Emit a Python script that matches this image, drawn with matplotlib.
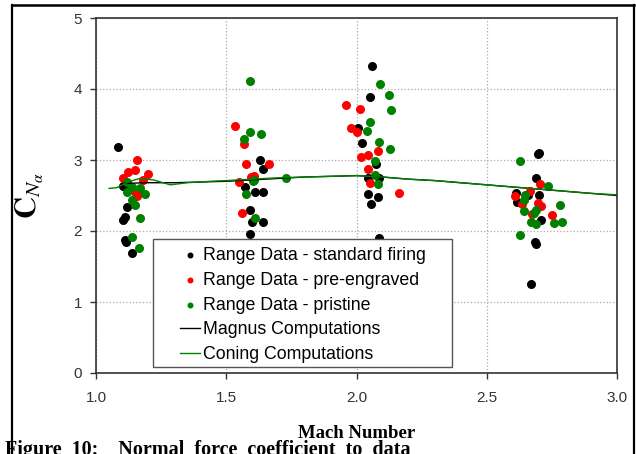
import matplotlib.pyplot as plt
from matplotlib.lines import Line2D
from matplotlib.patches import Rectangle

plt.rcParams['font.family'] = ['Liberation Sans', 'DejaVu Sans']
plt.rcParams['mathtext.fontset'] = 'stix'

# Range data - standard firing
std_mach = [1.086, 1.105, 1.118, 1.11, 1.105, 1.11, 1.115, 1.14,
            1.63, 1.64, 1.573, 1.61, 1.64, 1.592, 1.60, 1.64, 1.59,
            2.058, 2.05, 2.007, 2.02, 2.076, 2.045, 2.088, 2.044, 2.083, 2.057, 2.088,
            2.695, 2.70, 2.69, 2.612, 2.70, 2.66, 2.615, 2.71, 2.686, 2.69, 2.67]
std_cna = [3.19, 2.63, 2.34, 2.20, 2.15, 1.87, 1.85, 1.69,
           3.00, 2.87, 2.62, 2.55, 2.55, 2.29, 2.13, 2.12, 1.96,
           4.33, 3.89, 3.45, 3.24, 2.94, 2.75, 2.75, 2.52, 2.48, 2.38, 1.90,
           3.08, 3.10, 2.75, 2.54, 2.51, 2.51, 2.41, 2.16, 1.84, 1.81, 1.25]

# Range data - pre-engraved
pre_mach = [1.157, 1.124, 1.15, 1.20, 1.105, 1.18, 1.15, 1.157, 1.165,
            1.532, 1.57, 1.577, 1.663, 1.595, 1.605, 1.55, 1.56,
            1.96, 2.013, 1.98, 2.0, 2.082, 2.045, 2.018, 2.045, 2.05, 2.163,
            2.705, 2.665, 2.608, 2.635, 2.695, 2.708, 2.672, 2.75]
pre_cna = [3.00, 2.83, 2.86, 2.80, 2.74, 2.72, 2.55, 2.50, 2.53,
           3.48, 3.22, 2.94, 2.95, 2.76, 2.77, 2.69, 2.26,
           3.78, 3.72, 3.45, 3.40, 3.13, 3.07, 3.04, 2.88, 2.68, 2.54,
           2.66, 2.57, 2.49, 2.38, 2.40, 2.35, 2.24, 2.22]

# Range data - pristine
pri_mach = [1.118, 1.137, 1.169, 1.188, 1.137, 1.15, 1.167, 1.14, 1.165, 1.12,
            1.592, 1.59, 1.635, 1.57, 1.605, 1.603, 1.73, 1.577, 1.61,
            2.09, 2.125, 2.133, 2.05, 2.04, 2.086, 2.127, 2.07, 2.07, 2.082,
            2.627, 2.737, 2.647, 2.644, 2.78, 2.644, 2.69, 2.68, 2.67, 2.69, 2.76, 2.79, 2.627]
pri_cna = [2.69, 2.62, 2.60, 2.52, 2.44, 2.37, 2.18, 1.92, 1.76, 2.55,
           4.11, 3.40, 3.37, 3.29, 2.72, 2.70, 2.74, 2.52, 2.19,
           4.07, 3.92, 3.70, 3.53, 3.41, 3.25, 3.15, 2.99, 2.79, 2.66,
           2.98, 2.63, 2.51, 2.44, 2.36, 2.28, 2.30, 2.25, 2.12, 2.10, 2.11, 2.12, 1.95]

# Computations
magnus_mach = [1.10, 1.2, 1.3, 1.4, 1.5, 1.6, 1.7, 1.8, 1.9, 2.0, 2.1, 2.2,
               2.3, 2.4, 2.5, 2.6, 2.7, 2.8, 2.9, 3.0]
magnus_cna = [2.67, 2.68, 2.68, 2.69, 2.70, 2.72, 2.74, 2.76, 2.77, 2.78, 2.76, 2.73,
              2.71, 2.68, 2.65, 2.62, 2.59, 2.56, 2.53, 2.50]
coning_mach = [1.05, 1.08, 1.112, 1.14, 1.169, 1.22, 1.285, 1.35, 1.44, 1.5, 1.6,
               1.7, 1.8, 1.9, 2.0, 2.1, 2.2, 2.3, 2.4, 2.5, 2.6, 2.7, 2.8, 2.9, 3.0]
coning_cna = [2.60, 2.61, 2.67, 2.71, 2.74, 2.72, 2.65, 2.68, 2.70, 2.71, 2.73,
              2.75, 2.76, 2.77, 2.78, 2.76, 2.73, 2.71, 2.68, 2.65, 2.62, 2.59, 2.56, 2.53, 2.51]


def main():
    fig = plt.figure(figsize=(6.36, 4.54), dpi=100)
    ax = fig.add_axes([96 / 636, 1 - 373 / 454, 521 / 636, 355 / 454])

    ms = 30
    ax.scatter(std_mach, std_cna, s=ms, color='black', zorder=3,
               label='Range Data - standard firing')
    ax.scatter(pre_mach, pre_cna, s=ms, color='#ff0000', zorder=3,
               label='Range Data - pre-engraved')
    ax.scatter(pri_mach, pri_cna, s=ms, color='#008000', zorder=3,
               label='Range Data - pristine')
    ax.plot(magnus_mach, magnus_cna, color='black', lw=1.0, zorder=4,
            label='Magnus Computations')
    ax.plot(coning_mach, coning_cna, color='#008000', lw=1.0, zorder=4,
            label='Coning Computations')

    ax.set_xlim(1.0, 3.0)
    ax.set_ylim(0, 5)
    ax.set_xticks([1.0, 1.5, 2.0, 2.5, 3.0])
    ax.set_xticklabels(['1.0', '1.5', '2.0', '2.5', '3.0'])
    ax.set_yticks([0, 1, 2, 3, 4, 5])
    ax.tick_params(direction='out', length=4, width=1, colors='#333333',
                   labelsize=11, pad=6)
    ax.tick_params(axis='x', pad=9)
    ax.grid(True, linestyle=':', color='#aaaaaa', linewidth=0.9)
    for s in ax.spines.values():
        s.set_color('#333333')
        s.set_linewidth(1.2)

    ax.set_xlabel('Mach Number', family='Liberation Serif', fontweight='bold',
                  fontsize=13.5, labelpad=14)
    ax.set_ylabel(r'$\mathbf{C}_{N_{\alpha}}$', fontsize=22, labelpad=20)

    # legend box drawn separately so the inner padding matches
    ax.add_patch(Rectangle((57 / 521, 6 / 355), 299 / 521, 128 / 355,
                           transform=ax.transAxes, facecolor='white',
                           edgecolor='#555555', linewidth=1.0, zorder=5))
    leg = ax.legend(loc='upper left', bbox_to_anchor=(84 / 521, 126 / 355),
                    fontsize=12.8, frameon=False, markerscale=0.6,
                    handlelength=1.1, handletextpad=0.2, labelspacing=0.44,
                    borderpad=0, borderaxespad=0, scatterpoints=1)
    leg.set_zorder(6)

    # outer frame and caption
    fig.add_artist(Line2D([12 / 636, 634 / 636], [1 - 5 / 454, 1 - 5 / 454],
                          transform=fig.transFigure, color='black', lw=1.8))
    fig.add_artist(Line2D([12 / 636, 12 / 636], [0, 1 - 5 / 454],
                          transform=fig.transFigure, color='black', lw=1.6))
    fig.add_artist(Line2D([634 / 636, 634 / 636], [0, 1 - 5 / 454],
                          transform=fig.transFigure, color='black', lw=1.6))
    fig.text(5 / 636, -1.5 / 454, 'Figure  10:    Normal  force  coefficient  to  data',
             family='Liberation Serif', fontweight='bold', fontsize=14.5,
             ha='left', va='baseline')

    fig.savefig('out.png', dpi=100)


if __name__ == "__main__":
    main()
